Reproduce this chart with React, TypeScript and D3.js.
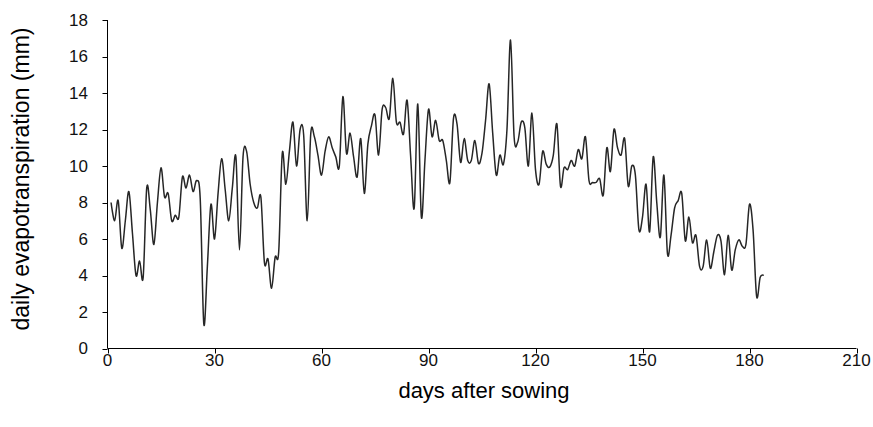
import React from "react";
import * as d3 from "d3";

// daily evapotranspiration (mm), days 1..184 after sowing
const etValues: number[] = [
  8.0, 7.0, 8.1, 5.5, 7.0, 8.6, 6.3, 4.0, 4.8, 3.9,
  8.8, 7.6, 5.7, 8.0, 9.9, 8.3, 8.5, 7.0, 7.3, 7.2,
  9.4, 8.8, 9.5, 8.6, 9.2, 8.2, 1.35, 4.5, 7.9, 6.0,
  8.5, 10.4, 8.7, 7.0, 8.8, 10.5, 5.4, 10.5, 10.8, 9.0,
  8.0, 7.7, 8.3, 4.7, 4.9, 3.3, 5.0, 5.3, 10.7, 9.0,
  10.8, 12.4, 10.0, 12.0, 11.7, 7.0, 11.8, 11.6, 10.6, 9.5,
  10.8, 11.6, 11.0, 10.5, 10.0, 13.8, 10.7, 11.8, 10.5, 9.4,
  11.5, 8.5, 11.2, 12.2, 12.8, 10.6, 13.1, 13.2, 12.6, 14.8,
  12.4, 12.4, 11.75, 13.6, 10.5, 7.7, 13.4, 7.2, 10.3, 13.1,
  11.6, 12.5, 11.4, 11.4, 10.3, 9.1, 12.6, 12.3, 10.2, 11.5,
  10.3, 10.3, 11.4, 10.15, 10.7, 12.5, 14.5, 11.8, 9.5, 10.6,
  10.1, 12.0, 16.9, 11.6, 11.3, 12.4, 12.1, 10.0, 12.9, 9.8,
  9.0, 10.8, 10.1, 9.95, 10.6, 12.3, 8.9, 9.9, 9.8, 10.3,
  10.0, 10.9, 10.4, 11.6, 9.2, 9.1, 9.1, 9.3, 8.4, 11.0,
  9.7, 12.0, 11.0, 10.6, 11.5, 8.9, 10.0, 9.5, 6.5, 7.2,
  9.0, 6.4, 10.5, 8.0, 6.1, 9.5, 5.2, 6.2, 7.7, 8.1,
  8.5, 5.9, 7.2, 5.8, 6.2, 4.5, 4.5, 5.95, 4.4, 5.3,
  6.2, 5.9, 4.05, 6.2, 4.3, 5.4, 5.95, 5.6, 5.7, 7.9,
  6.5, 2.85, 3.9, 4.0,
];
const firstDay = 1;
const days: number[] = etValues.map((_, i) => firstDay + i);

const xTicks: number[] = [0, 30, 60, 90, 120, 150, 180, 210];
const yTicks: number[] = [0, 2, 4, 6, 8, 10, 12, 14, 16, 18];
const xTitle = "days after sowing";
const yTitle = "daily evapotranspiration (mm)";

export default function App() {
  const W = 873;
  const H = 427;
  const x = d3.scaleLinear().domain([0, 210]).range([107.5, 856.5]);
  const y = d3.scaleLinear().domain([0, 18]).range([348.5, 20]);
  const line = d3
    .line<number>()
    .x((_, i) => x(days[i]))
    .y((d) => y(d))
    .curve(d3.curveCardinal.tension(0));
  const font = "'Liberation Sans', Arial, sans-serif";
  const axisColor = "#000";
  return (
    <div style={{ position: "absolute", left: 0, top: 0 }}>
      <svg width={W} height={H} style={{ display: "block", background: "#fff" }}>
        {/* y axis */}
        <line x1={x(0)} x2={x(0)} y1={y(0)} y2={y(18)} stroke={axisColor} strokeWidth={1} />
        {yTicks.map((t) => (
          <g key={"yt" + t}>
            <line x1={x(0) - 5} x2={x(0)} y1={Math.round(y(t)) + 0.5} y2={Math.round(y(t)) + 0.5} stroke={axisColor} strokeWidth={1} />
            <text x={88} y={y(t)} dy="0.35em" textAnchor="end" fontFamily={font} fontSize={17} fill="#111">
              {t}
            </text>
          </g>
        ))}
        {/* x axis */}
        <line x1={x(0)} x2={x(210)} y1={y(0)} y2={y(0)} stroke={axisColor} strokeWidth={1} />
        {xTicks.map((t) => (
          <g key={"xt" + t}>
            <line x1={Math.round(x(t)) + 0.5} x2={Math.round(x(t)) + 0.5} y1={y(0)} y2={y(0) + 5} stroke={axisColor} strokeWidth={1} />
            <text x={x(t)} y={366} textAnchor="middle" fontFamily={font} fontSize={17} fill="#111">
              {t}
            </text>
          </g>
        ))}
        {/* data line */}
        <path d={line(etValues) || ""} fill="none" stroke="#262626" strokeWidth={1.5} strokeLinejoin="round" />
        {/* titles */}
        <text x={484} y={398} textAnchor="middle" fontFamily={font} fontSize={22} fill="#000">
          {xTitle}
        </text>
        <text
          transform={`translate(29,179) rotate(-90)`}
          textAnchor="middle"
          fontFamily={font}
          fontSize={23}
          fill="#000"
        >
          {yTitle}
        </text>
      </svg>
    </div>
  );
}
